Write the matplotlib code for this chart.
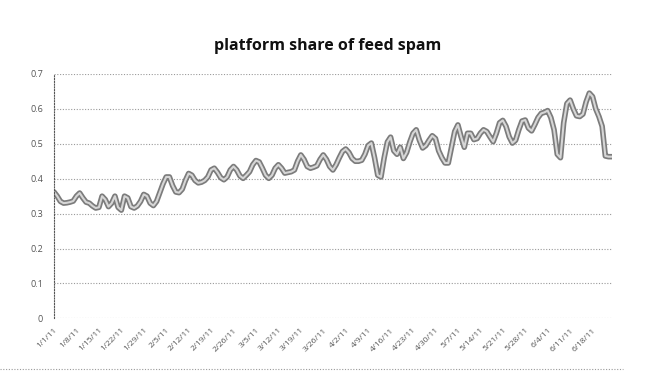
import numpy as np
import matplotlib
matplotlib.use("Agg")
import matplotlib.pyplot as plt
import matplotlib.patheffects as pe
from matplotlib.lines import Line2D

# daily share, 1/1/11 .. 6/24/11
share = [
    0.362, 0.350, 0.335, 0.330, 0.331, 0.333, 0.336, 0.350, 0.359, 0.345,
    0.333, 0.330, 0.322, 0.316, 0.318, 0.350, 0.340, 0.320, 0.330, 0.350,
    0.318, 0.310, 0.350, 0.345, 0.320, 0.316, 0.322, 0.335, 0.355, 0.350,
    0.330, 0.323, 0.335, 0.360, 0.385, 0.405, 0.405, 0.380, 0.362, 0.360,
    0.370, 0.395, 0.415, 0.410, 0.395, 0.388, 0.390, 0.395, 0.405, 0.425,
    0.430, 0.418, 0.403, 0.397, 0.405, 0.425, 0.435, 0.425, 0.408, 0.401,
    0.410, 0.420, 0.440, 0.452, 0.448, 0.430, 0.410, 0.401, 0.410, 0.430,
    0.440, 0.430, 0.416, 0.418, 0.420, 0.425, 0.450, 0.468, 0.455, 0.435,
    0.430, 0.433, 0.437, 0.455, 0.468, 0.455, 0.435, 0.425, 0.440, 0.460,
    0.478, 0.485, 0.475, 0.458, 0.450, 0.450, 0.453, 0.470, 0.495, 0.502,
    0.460, 0.410, 0.405, 0.460, 0.505, 0.519, 0.480, 0.470, 0.490, 0.458,
    0.475, 0.505, 0.530, 0.540, 0.510, 0.488, 0.495, 0.510, 0.523, 0.515,
    0.480, 0.460, 0.445, 0.445, 0.490, 0.535, 0.554, 0.520, 0.490, 0.530,
    0.530, 0.512, 0.515, 0.530, 0.540, 0.535, 0.520, 0.506, 0.530, 0.560,
    0.567, 0.550, 0.520, 0.502, 0.510, 0.540, 0.565, 0.568, 0.545, 0.537,
    0.555, 0.575, 0.587, 0.590, 0.595, 0.575, 0.540, 0.470, 0.460, 0.560,
    0.615, 0.625, 0.600, 0.580, 0.578, 0.585, 0.620, 0.645, 0.635, 0.600,
    0.578, 0.550, 0.465, 0.463, 0.463,
]

week_labels = ['1/1/11', '1/8/11', '1/15/11', '1/22/11', '1/29/11', '2/5/11',
               '2/12/11', '2/19/11', '2/26/11', '3/5/11', '3/12/11', '3/19/11',
               '3/26/11', '4/2/11', '4/9/11', '4/16/11', '4/23/11', '4/30/11',
               '5/7/11', '5/14/11', '5/21/11', '5/28/11', '6/4/11', '6/11/11',
               '6/18/11']

y_ticks = [0, 0.1, 0.2, 0.3, 0.4, 0.5, 0.6, 0.7]
y_labels = ['0', '0.1', '0.2', '0.3', '0.4', '0.5', '0.6', '0.7']

plt.rcParams['font.family'] = ['Open Sans', 'DejaVu Sans']

fig = plt.figure(figsize=(6.46, 3.85), dpi=100)
ax = fig.add_axes([0.0836, 0.173, 0.8634, 0.635])

days = np.arange(len(share))
ax.plot(days, share, color='#d6d6d6', lw=1.5, solid_capstyle='round',
        path_effects=[pe.Stroke(linewidth=4.0, foreground='#7c7c7c'), pe.Normal()])

ax.set_xlim(0, len(share) - 1)
ax.set_ylim(0, 0.7)
ax.set_yticks(y_ticks)
ax.set_yticklabels(y_labels, fontsize=6.5, color='#555555')
ax.set_xticks(np.arange(len(week_labels)) * 7)
ax.set_xticklabels(week_labels, rotation=45, ha='right', rotation_mode='anchor',
                   fontsize=6, color='#555555')
ax.tick_params(length=0)
ax.tick_params(axis='y', pad=8)
ax.tick_params(axis='x', pad=6)

ax.grid(axis='y', color='#9a9a9a', linestyle=(0, (1, 1.5)), lw=0.8)
ax.set_axisbelow(True)
for side in ['top', 'right', 'bottom']:
    ax.spines[side].set_visible(False)
ax.spines['left'].set_linestyle((0, (1, 1.5)))
ax.spines['left'].set_color('#555555')
ax.spines['left'].set_linewidth(0.8)

fig.text(0.507, 0.88, 'platform share of feed spam', ha='center', va='center',
         fontsize=11.5, fontweight='bold', color='#111111')

# dotted chart-area border at the bottom
fig.add_artist(Line2D([0.0, 0.965], [0.042, 0.042], transform=fig.transFigure,
                      color='#9a9a9a', lw=0.8, linestyle=(0, (1, 1.5))))

fig.savefig('out.png', dpi=100, facecolor='white')
